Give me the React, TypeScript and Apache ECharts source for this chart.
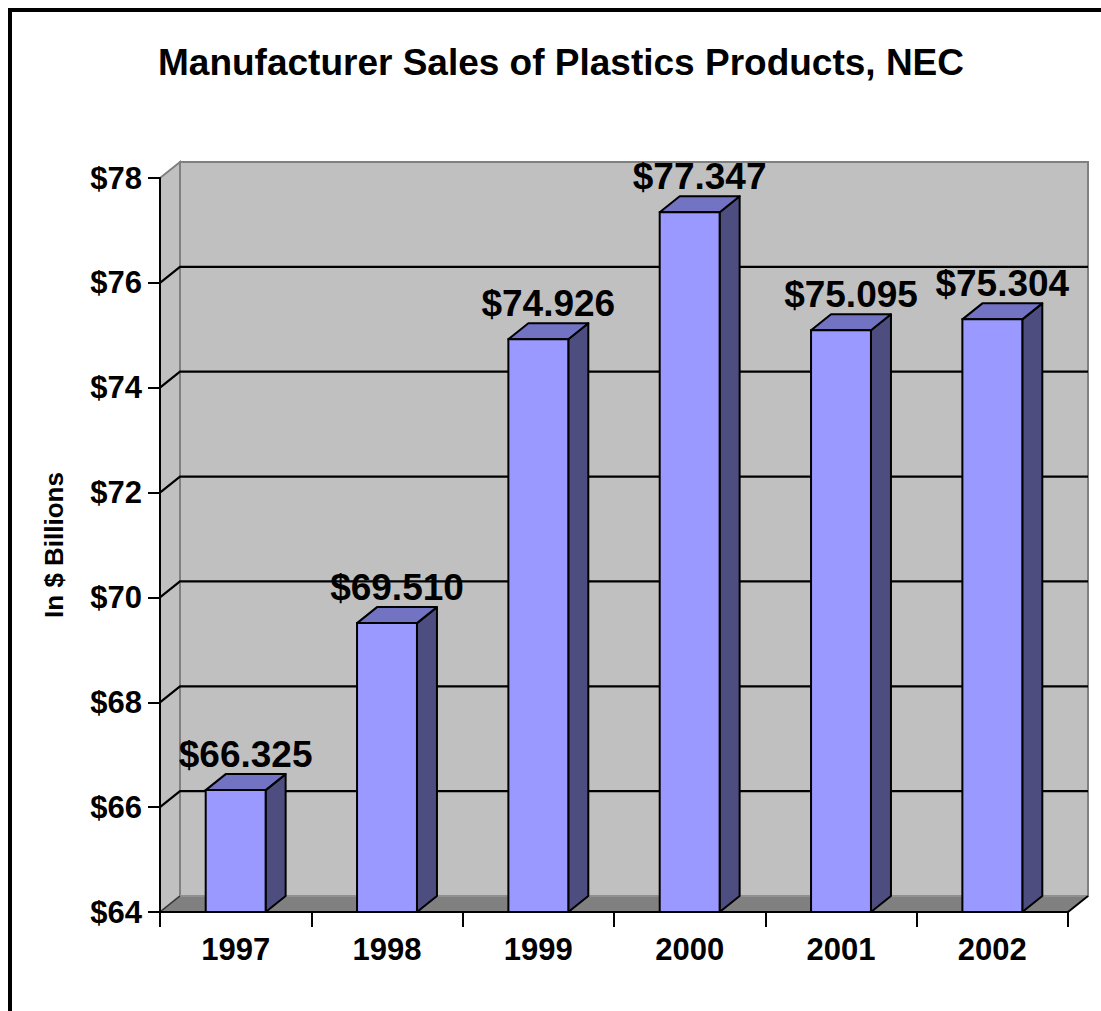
import React, { useEffect, useRef } from "react";
import * as echarts from "echarts";

const years = ["1997", "1998", "1999", "2000", "2001", "2002"];
const sales = [66.325, 69.51, 74.926, 77.347, 75.095, 75.304];
const yMin = 64;
const yMax = 78;
const yStep = 2;
const gridValues = [66, 68, 70, 72, 74, 76];

const FONT = "'Liberation Sans', Arial, Helvetica, sans-serif";
const DX = 20;
const DY = -16;

export default function App() {
  const ref = useRef<HTMLDivElement>(null);
  useEffect(() => {
    if (!ref.current) return;
    const chart = echarts.init(ref.current, null, { renderer: "svg" });
    const option: any = {
      animation: false,
      backgroundColor: "#ffffff",
      graphic: [
        {
          type: "polyline",
          z: 100,
          shape: { points: [[10, 1030], [10, 10], [1120, 10]] },
          style: { stroke: "#000", lineWidth: 4, fill: null },
        },
        {
          type: "text",
          z: 100,
          style: {
            text: "Manufacturer Sales of Plastics Products, NEC",
            x: 561,
            y: 62,
            align: "center",
            verticalAlign: "middle",
            fontSize: 37,
            fontWeight: "bold",
            fontFamily: FONT,
            fill: "#000",
          },
        },
      ],
      grid: { left: 160, top: 178, width: 908, height: 734, containLabel: false },
      xAxis: {
        type: "category",
        data: years,
        z: 10,
        boundaryGap: true,
        axisLine: { show: true, lineStyle: { color: "#000", width: 2 } },
        axisTick: { show: true, length: 15, lineStyle: { color: "#000", width: 2 } },
        axisLabel: {
          margin: 22,
          fontSize: 31,
          fontWeight: "bold",
          fontFamily: FONT,
          color: "#000",
        },
        splitLine: { show: false },
      },
      yAxis: {
        type: "value",
        min: yMin,
        max: yMax,
        interval: yStep,
        z: 10,
        name: "In $ Billions",
        nameLocation: "middle",
        nameGap: 93,
        nameRotate: 90,
        nameTextStyle: { fontSize: 26, fontWeight: "bold", fontFamily: FONT, color: "#000" },
        axisLine: { show: true, lineStyle: { color: "#000", width: 2 } },
        axisTick: { show: true, length: 12, lineStyle: { color: "#000", width: 2 } },
        axisLabel: {
          margin: 18,
          fontSize: 31,
          fontWeight: "bold",
          fontFamily: FONT,
          color: "#000",
          formatter: (v: number) => "$" + v,
        },
        splitLine: { show: false },
      },
      series: [
        {
          type: "custom",
          z: 1,
          silent: true,
          data: [[0, yMin]],
          renderItem: (params: any, api: any) => {
            const cs = params.coordSys;
            const l = cs.x;
            const r = cs.x + cs.width;
            const t = cs.y;
            const b = cs.y + cs.height;
            return {
              type: "group",
              children: [
                {
                  type: "polygon",
                  shape: { points: [[l + DX, t + DY], [r + DX, t + DY], [r + DX, b + DY], [l + DX, b + DY]] },
                  style: { fill: "#c0c0c0", stroke: "#808080", lineWidth: 2 },
                },
                {
                  type: "polygon",
                  shape: { points: [[l, t], [l + DX, t + DY], [l + DX, b + DY], [l, b]] },
                  style: { fill: "#c0c0c0", stroke: "#808080", lineWidth: 2 },
                },
                {
                  type: "polygon",
                  shape: { points: [[l, b], [l + DX, b + DY], [r + DX, b + DY], [r, b]] },
                  style: { fill: "#808080", stroke: "#a0a0a0", lineWidth: 1 },
                },
                {
                  type: "line",
                  shape: { x1: l, y1: b, x2: l + DX, y2: b + DY },
                  style: { stroke: "#303030", lineWidth: 1.5 },
                },
                {
                  type: "line",
                  shape: { x1: r, y1: b, x2: r + DX, y2: b + DY },
                  style: { stroke: "#000", lineWidth: 2 },
                },
              ],
            };
          },
        },
        {
          type: "custom",
          z: 2,
          silent: true,
          data: gridValues.map((v) => [0, v]),
          renderItem: (params: any, api: any) => {
            const cs = params.coordSys;
            const y = api.coord([0, api.value(1)])[1];
            const l = cs.x;
            const r = cs.x + cs.width;
            return {
              type: "polyline",
              shape: { points: [[l, y], [l + DX, y + DY], [r + DX, y + DY]] },
              style: { stroke: "#000", lineWidth: 2.2, fill: null },
            };
          },
        },
        {
          type: "custom",
          z: 3,
          data: years.map((yr, i) => [i, sales[i]]),
          renderItem: (params: any, api: any) => {
            const idx = api.value(0);
            const val = api.value(1);
            const top = api.coord([idx, val]);
            const bot = api.coord([idx, yMin]);
            const w = api.size([1, 0])[0] * 0.396;
            const x0 = top[0] - w / 2;
            const x1 = top[0] + w / 2;
            const yt = top[1];
            const yb = bot[1];
            return {
              type: "group",
              children: [
                {
                  type: "polygon",
                  shape: { points: [[x1, yt], [x1 + DX, yt + DY], [x1 + DX, yb + DY], [x1, yb]] },
                  style: { fill: "#4d4d80", stroke: "#000", lineWidth: 2, lineJoin: "round" },
                },
                {
                  type: "polygon",
                  shape: { points: [[x0, yt], [x0 + DX, yt + DY], [x1 + DX, yt + DY], [x1, yt]] },
                  style: { fill: "#7373c4", stroke: "#000", lineWidth: 2, lineJoin: "round" },
                },
                {
                  type: "rect",
                  shape: { x: x0, y: yt, width: w, height: yb - yt },
                  style: { fill: "#9999ff", stroke: "#000", lineWidth: 2 },
                },
                {
                  type: "text",
                  style: {
                    text: "$" + Number(val).toFixed(3),
                    x: top[0] + DX / 2,
                    y: yt + DY - 20,
                    align: "center",
                    verticalAlign: "middle",
                    fontSize: 37,
                    fontWeight: "bold",
                    fontFamily: FONT,
                    fill: "#000",
                  },
                },
              ],
            };
          },
        },
      ],
    };
    chart.setOption(option);
    return () => chart.dispose();
  }, []);
  return (
    <div
      ref={ref}
      style={{ position: "absolute", left: 0, top: 0, width: 1101, height: 1011, background: "#fff" }}
    />
  );
}
